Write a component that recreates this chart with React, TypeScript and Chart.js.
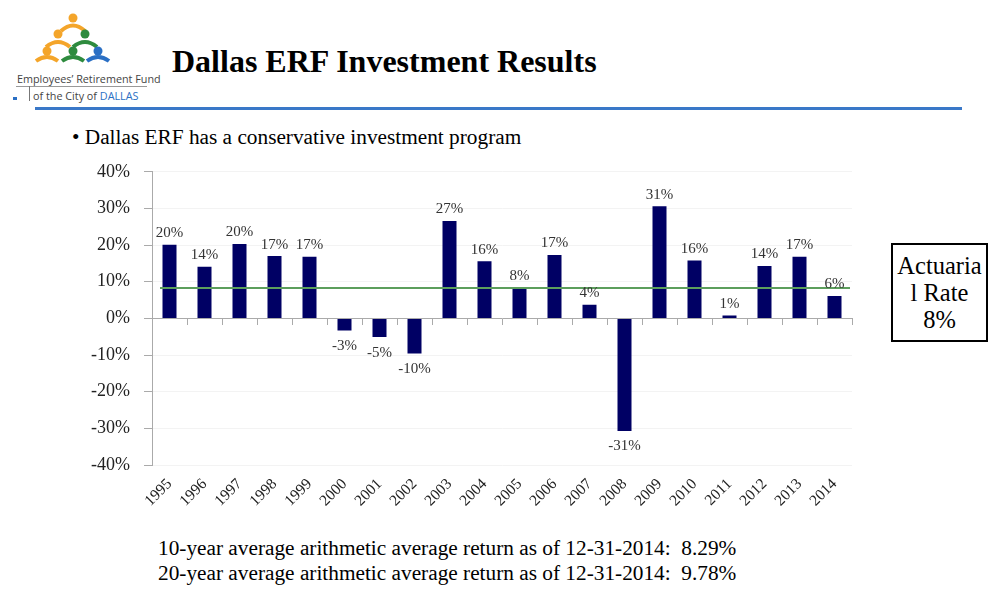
import React, { useEffect, useRef } from "react";
import { Chart, registerables } from "chart.js";

Chart.register(...registerables);

const years = ["1995","1996","1997","1998","1999","2000","2001","2002","2003","2004","2005","2006","2007","2008","2009","2010","2011","2012","2013","2014"];
const returns = [20.1, 14.1, 20.3, 17.0, 16.8, -3.3, -5.1, -9.6, 26.6, 15.6, 8.3, 17.3, 3.7, -30.7, 30.6, 15.8, 0.8, 14.3, 16.8, 6.1];
const returnLabels = ["20%","14%","20%","17%","17%","-3%","-5%","-10%","27%","16%","8%","17%","4%","-31%","31%","16%","1%","14%","17%","6%"];
const actuarialRate = 8.3;
const yMin = -40;
const yMax = 40;
const yStep = 10;

const SERIF = "'Liberation Serif', 'Times New Roman', serif";

const valueLabelPlugin = {
  id: "valueLabels",
  afterDatasetsDraw(chart: any) {
    const { ctx, chartArea } = chart;
    const ys = chart.scales.y;
    ctx.save();
    ctx.strokeStyle = "#5c9e5c";
    ctx.lineWidth = 2;
    const ly = ys.getPixelForValue(actuarialRate);
    ctx.beginPath();
    ctx.moveTo(chartArea.left + 8, ly);
    ctx.lineTo(chartArea.right - 2, ly);
    ctx.stroke();
    ctx.restore();

    const meta = chart.getDatasetMeta(0);
    ctx.save();
    ctx.font = "15px " + SERIF;
    ctx.fillStyle = "#333";
    ctx.textAlign = "center";
    meta.data.forEach((bar: any, i: number) => {
      const v = returns[i];
      if (v >= 0) {
        ctx.textBaseline = "bottom";
        ctx.fillText(returnLabels[i], bar.x, bar.y - 4);
      } else {
        ctx.textBaseline = "top";
        ctx.fillText(returnLabels[i], bar.x, bar.y + 8);
      }
    });
    ctx.restore();
  },
};

function Logo() {
  return (
    <div style={{ position: "absolute", left: 0, top: 0, width: 160, height: 106 }}>
      <svg width="160" height="70" style={{ position: "absolute", left: 0, top: 0 }}>
        <circle cx="73" cy="18" r="4.5" fill="#f4a52a" />
        <path d="M61 31 Q73 20 85 31" stroke="#f4a52a" strokeWidth="4" fill="none" />
        <circle cx="58" cy="34" r="4.5" fill="#f4a52a" />
        <path d="M46 47 Q58 37 70 47" stroke="#f4a52a" strokeWidth="4" fill="none" />
        <circle cx="85" cy="34" r="4.5" fill="#2e8b3e" />
        <path d="M73 47 Q85 37 97 47" stroke="#2e8b3e" strokeWidth="4" fill="none" />
        <circle cx="47" cy="51" r="4.5" fill="#f4a52a" />
        <path d="M36 61 Q47 53 58 61" stroke="#f4a52a" strokeWidth="4" fill="none" />
        <circle cx="73" cy="51" r="4.5" fill="#2e8b3e" />
        <path d="M62 61 Q73 53 84 61" stroke="#2e8b3e" strokeWidth="4" fill="none" />
        <circle cx="98" cy="51" r="4.5" fill="#2a6fc4" />
        <path d="M87 61 Q98 53 109 61" stroke="#2a6fc4" strokeWidth="4" fill="none" />
      </svg>
      <div style={{ position: "absolute", left: 17, top: 71, fontFamily: "'Open Sans', sans-serif", fontSize: 10.8, color: "#444", whiteSpace: "nowrap" }}>
        Employees’ Retirement Fund
      </div>
      <div style={{ position: "absolute", left: 16, top: 86, width: 131, height: 1, background: "#999" }} />
      <div style={{ position: "absolute", left: 29, top: 86, width: 1, height: 15, background: "#777" }} />
      <div style={{ position: "absolute", left: 13, top: 97, width: 4, height: 3, background: "#2a6fc4" }} />
      <div style={{ position: "absolute", left: 33, top: 88, fontFamily: "'Open Sans', sans-serif", fontSize: 10.8, color: "#444", whiteSpace: "nowrap" }}>
        of the City of <span style={{ color: "#2a6fc4" }}>DALLAS</span>
      </div>
    </div>
  );
}

export default function App() {
  const canvasRef = useRef<HTMLCanvasElement | null>(null);

  useEffect(() => {
    if (!canvasRef.current) return;
    const chart = new Chart(canvasRef.current, {
      type: "bar",
      data: {
        labels: years,
        datasets: [
          {
            data: returns,
            backgroundColor: "#000064",
            borderWidth: 0,
            barPercentage: 0.4,
            categoryPercentage: 1,
            xAxisID: "x",
          },
        ],
      },
      options: {
        animation: false,
        responsive: false,
        layout: { padding: { top: 15, right: 8, left: 0, bottom: 0 } },
        plugins: { legend: { display: false }, tooltip: { enabled: false } },
        scales: {
          x: {
            type: "category",
            position: { y: 0 } as any,
            ticks: { display: false },
            grid: { drawOnChartArea: false, tickLength: 6, tickColor: "#aaa", offset: true },
            border: { color: "#aaa", width: 1 },
          },
          x2: {
            type: "category",
            position: "bottom",
            labels: years,
            offset: true,
            grid: { display: false },
            border: { display: false },
            ticks: {
              minRotation: 45,
              maxRotation: 45,
              autoSkip: false,
              color: "#222",
              font: { family: SERIF, size: 15.5 },
              padding: 2,
            },
            afterFit: (s: any) => { s.height = 60; },
          },
          y: {
            min: yMin,
            max: yMax,
            ticks: {
              stepSize: yStep,
              color: "#222",
              font: { family: SERIF, size: 18 },
              padding: 14,
              callback: (v: any) => v + "%",
            },
            grid: { color: "#f3f3f3", tickColor: "#aaa", tickLength: 8 },
            border: { color: "#aaa", width: 1 },
            afterFit: (s: any) => { s.width = 92; },
          },
        },
      },
      plugins: [valueLabelPlugin],
    });
    return () => chart.destroy();
  }, []);

  return (
    <div style={{ position: "absolute", left: 0, top: 0, width: 1004, height: 611, background: "#fff", overflow: "hidden" }}>
      <Logo />
      <div style={{ position: "absolute", left: 172, top: 43, fontFamily: SERIF, fontWeight: "bold", fontSize: 32, color: "#000", whiteSpace: "nowrap" }}>
        Dallas ERF Investment Results
      </div>
      <div style={{ position: "absolute", left: 35, top: 107, width: 927, height: 3, background: "#3a78c8" }} />
      <div style={{ position: "absolute", left: 72, top: 125, fontFamily: SERIF, fontSize: 21.3, color: "#000", whiteSpace: "nowrap" }}>
        • Dallas ERF has a conservative investment program
      </div>
      <canvas ref={canvasRef} width={800} height={378} style={{ position: "absolute", left: 60, top: 147, width: 800, height: 378 }} />
      <div style={{ position: "absolute", left: 891, top: 243, width: 93, height: 95, border: "2px solid #000", fontFamily: SERIF, fontSize: 24.5, lineHeight: "27px", textAlign: "center", display: "flex", flexDirection: "column", justifyContent: "center", color: "#000", whiteSpace: "nowrap" }}>
        <div>Actuaria</div>
        <div>l Rate</div>
        <div>8%</div>
      </div>
      <div style={{ position: "absolute", left: 158, top: 536, fontFamily: SERIF, fontSize: 21.3, lineHeight: "25px", color: "#000", whiteSpace: "pre" }}>
        {"10-year average arithmetic average return as of 12-31-2014:  8.29%\n20-year average arithmetic average return as of 12-31-2014:  9.78%"}
      </div>
    </div>
  );
}
